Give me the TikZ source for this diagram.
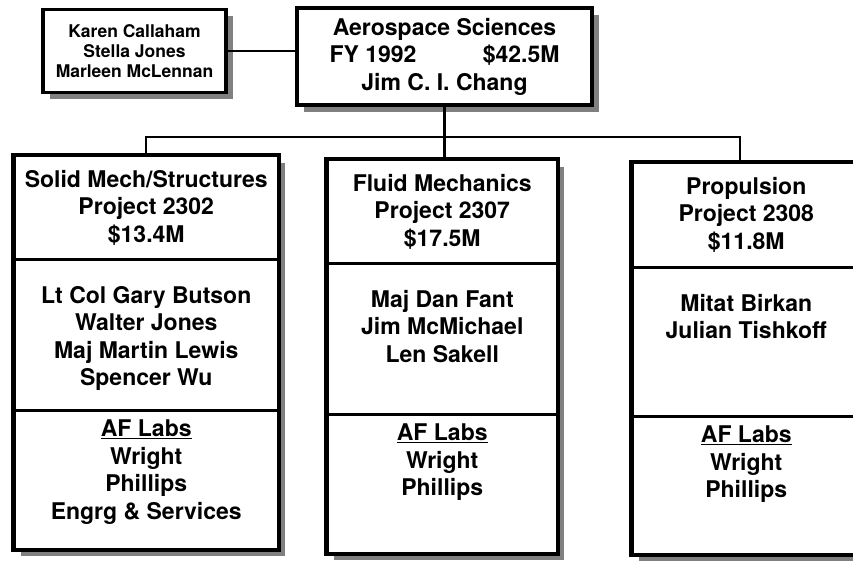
\documentclass[tikz,border=0pt]{standalone}
\usepackage{fontspec}
\setmainfont{TeX Gyre Heros}
\usetikzlibrary{positioning,shadows}

\begin{document}
\begin{tikzpicture}[
  x=1pt, y=-1pt,
  boxshadow/.style={drop shadow={shadow xshift=7pt, shadow yshift=-7pt, opacity=1, fill=black!50}},
  box/.style={draw, line width=3.5pt, fill=white, align=center, inner sep=0pt, boxshadow,
    font=\bfseries\fontsize{23}{27.5}\selectfont},
  sect/.style={draw, line width=2.5pt, fill=white, inner sep=0pt, anchor=north west, boxshadow},
  colframe/.style={draw, line width=3.5pt},
  txt/.style={align=center, inner sep=0pt, anchor=north, font=\bfseries\fontsize{23}{27.5}\selectfont},
  link/.style={draw, line width=2.2pt}
  ]

  \clip (0,0) rectangle (853,561);

  % top row
  \node[box, minimum width=183, minimum height=83,
    font=\bfseries\fontsize{17.5}{20}\selectfont] (staff) at (134.5,51)
    {Karen Callaham\\Stella Jones\\Marleen McLennan};
  \node[box, minimum width=295, minimum height=97] (head) at (444.5,56.5)
    {Aerospace Sciences\\\makebox[230pt]{FY 1992\hfill\$42.5M}\\Jim C. I. Chang};

  % Solid Mech/Structures
  \node[sect, minimum width=264, minimum height=103] (solidtop) at (13,155) {};
  \node[sect, minimum width=264, minimum height=151] (solidnames) at (13,258) {};
  \node[sect, minimum width=264, minimum height=139] (solidlabs) at (13,409) {};
  \draw[colframe] (solidtop.north west) rectangle (solidlabs.south east);

  \node[txt] (solidhead) at ([yshift=-15pt]solidtop.north)
    {Solid Mech/Structures\\Project 2302\\\$13.4M};
  \node[txt] (solidstaff) at ([yshift=-28pt]solidnames.north)
    {Lt Col Gary Butson\\Walter Jones\\Maj Martin Lewis\\Spencer Wu};
  \node[txt] (solidlab) at ([yshift=-11pt]solidlabs.north)
    {\underline{AF Labs}\\Wright\\Phillips\\Engrg \& Services};

  % Fluid Mechanics
  \node[sect, minimum width=230, minimum height=103] (fluidtop) at (326,159) {};
  \node[sect, minimum width=230, minimum height=151] (fluidnames) at (326,262) {};
  \node[sect, minimum width=230, minimum height=139] (fluidlabs) at (326,413) {};
  \draw[colframe] (fluidtop.north west) rectangle (fluidlabs.south east);

  \node[txt] (fluidhead) at ([yshift=-15pt]fluidtop.north)
    {Fluid Mechanics\\Project 2307\\\$17.5M};
  \node[txt] (fluidstaff) at ([yshift=-28pt]fluidnames.north)
    {Maj Dan Fant\\Jim McMichael\\Len Sakell};
  \node[txt] (fluidlab) at ([yshift=-11pt]fluidlabs.north)
    {\underline{AF Labs}\\Wright\\Phillips};

  % Propulsion
  \node[sect, minimum width=228, minimum height=104] (proptop) at (631,162) {};
  \node[sect, minimum width=228, minimum height=149] (propnames) at (631,266) {};
  \node[sect, minimum width=228, minimum height=138] (proplabs) at (631,415) {};
  \draw[colframe] (proptop.north west) rectangle (proplabs.south east);

  \node[txt] (prophead) at ([yshift=-15pt]proptop.north)
    {Propulsion\\Project 2308\\\$11.8M};
  \node[txt] (propstaff) at ([yshift=-28pt]propnames.north)
    {Mitat Birkan\\Julian Tishkoff};
  \node[txt] (proplab) at ([yshift=-11pt]proplabs.north)
    {\underline{AF Labs}\\Wright\\Phillips};

  % connectors
  \draw[link] (staff.east) -- (staff.east -| head.west);
  \draw[link] (head.south) -- ++(0,30) coordinate (bus);
  \draw[link] (solidtop.north) |- (bus) -| ([xshift=-6pt]proptop.north);
  \draw[link] (bus) -- (bus |- fluidtop.north);

\end{tikzpicture}
\end{document}
